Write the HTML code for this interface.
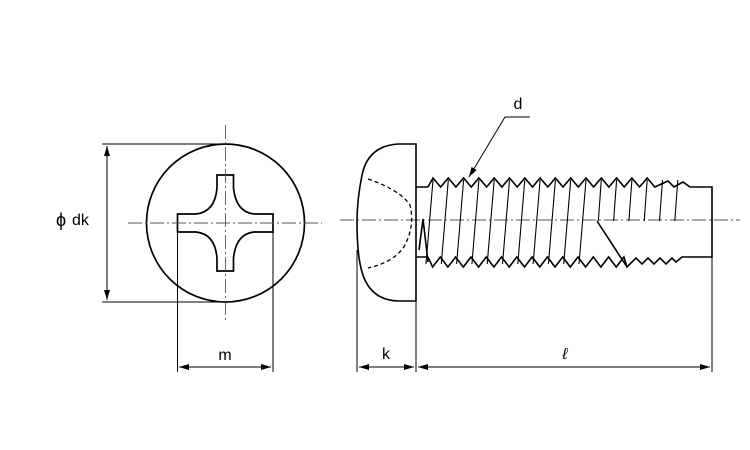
<!DOCTYPE html>
<html><head><meta charset="utf-8"><style>body{margin:0;background:#fff}svg{display:block}</style></head>
<body>
<svg id="s" width="750" height="450" xmlns="http://www.w3.org/2000/svg" font-family="Liberation Sans, sans-serif">
<defs><marker id="a" markerWidth="10" markerHeight="6" refX="10" refY="3" orient="auto-start-reverse" markerUnits="userSpaceOnUse"><path d="M0,0 L10,3 L0,6 Z" fill="#000"/></marker></defs>
<g stroke="#000" fill="none" stroke-width="1.7">
<circle cx="225.5" cy="223" r="79"/>
<path d="M217,175 H233.5 V188 Q236,212 254,214 H273 V232 H254 Q236,234 233.5,258 V271 H217 V258 Q215,234 196,232 H177.5 V214 H196 Q215,212 217,188 Z"/>
</g>
<g stroke="#000" stroke-width="1" fill="none">
<path d="M102,144 H225 M102,302 H225"/>
<path d="M107,146 V300" marker-start="url(#a)" marker-end="url(#a)"/>
<path d="M177.5,232 V372 M273,232 V372"/>
<path d="M179,367 H271" marker-start="url(#a)" marker-end="url(#a)"/>
<path d="M357,250 V372 M416,302 V372 M712,257 V372"/>
<path d="M359,367 H414" marker-start="url(#a)" marker-end="url(#a)"/>
<path d="M418,367 H710" marker-start="url(#a)" marker-end="url(#a)"/>
<path d="M530,117 H505 L469,177" marker-end="url(#a)"/>
</g>
<g stroke="#555" stroke-width="0.9" stroke-dasharray="14,3,2,3" fill="none">
<path d="M225.5,125 V320"/>
<path d="M128,223 H322"/>
<path d="M340,220 H740"/>
</g>
<g stroke="#000" fill="none" stroke-width="1.6">
<path d="M416,144 H398 Q368,146 362,175 Q357,200 357,222 Q357,255 362,272 Q370,300 398,301 H416 Z"/>
<path d="M416,187 H428 M416,257 H428 M690,187 H712 V257 H688"/>
<path d="M368,179 Q400,190 410,205 Q415,225 405,245 Q395,262 368,268" stroke-dasharray="4,3" stroke-width="1.3"/>
<path id="top" d=""/><path id="bot" d=""/><path id="lines" d="" stroke-width="1.1"/>
<path d="M597,221 L627,267"/>
<path d="M419,250 L423,219 L428,262"/>
</g>
<text x="56" y="226" font-size="18">ϕ</text><text x="72" y="225" font-size="16">dk</text>
<text x="225" y="360" font-size="16" text-anchor="middle">m</text>
<text x="386" y="359" font-size="16" text-anchor="middle">k</text>
<text x="565" y="359" font-size="16" text-anchor="middle" font-style="italic">ℓ</text>
<text x="518" y="109" font-size="16" text-anchor="middle">d</text>
</svg>
<script>
var p=15.3,t="M428,187",b="M428,257",l="";
for(var x=433;x<660;x+=p){t+=" L"+x.toFixed(1)+",178 L"+(x+p/2).toFixed(1)+",187";}
t+=" L668,181 L674,187 L683,182 L690,187";
for(var x=425+p/2;x<625;x+=p){b+=" L"+x.toFixed(1)+",267 L"+(x+p/2).toFixed(1)+",257";}
b+=" L627,267 L636,258 L642,264 L648,258 L654,264 L660,258 L666,264 L672,258 L676,262 L682,257 L688,257";
for(var x=433;x<690;x+=p){var bx=x-7;
 if(x<600) l+="M"+x.toFixed(1)+",180 L"+bx.toFixed(1)+",264 ";
 else l+="M"+x.toFixed(1)+",180 L"+(x-3).toFixed(1)+",221 ";}
document.getElementById("top").setAttribute("d",t);
document.getElementById("bot").setAttribute("d",b);
document.getElementById("lines").setAttribute("d",l);
</script>
</body></html>
